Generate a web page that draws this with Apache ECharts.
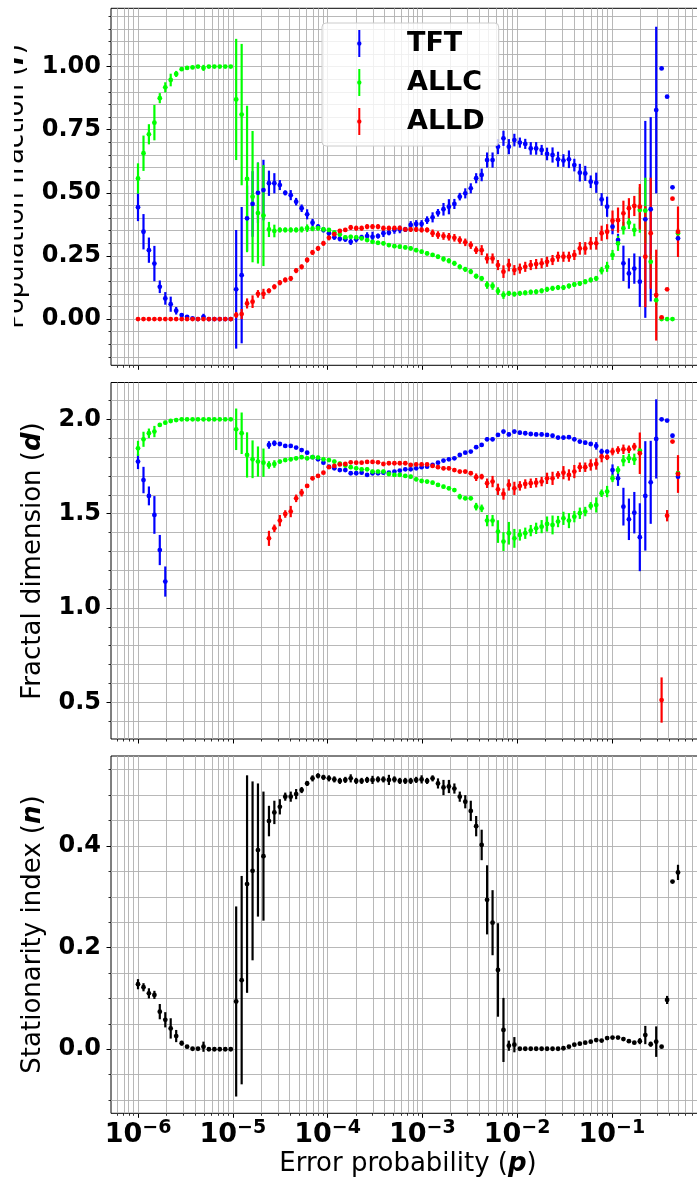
<!DOCTYPE html>
<html>
<head>
<meta charset="utf-8">
<script src="https://cdn.jsdelivr.net/npm/echarts@6/dist/echarts.min.js"></script>
<style>
  html, body { margin: 0; padding: 0; background: #fff; }
  #chart { width: 697px; height: 1183px; }
</style>
</head>
<body>
<div id="chart"></div>
<script>
// log10 of the error probability p for every simulated point
const logP = [
  -6.000, -5.942, -5.885, -5.827, -5.770, -5.712, -5.655, -5.597, -5.539, -5.482,
  -5.424, -5.367, -5.309, -5.252, -5.194, -5.137, -5.079, -5.021, -4.964, -4.906,
  -4.849, -4.791, -4.734, -4.676, -4.618, -4.561, -4.503, -4.446, -4.388, -4.331,
  -4.273, -4.215, -4.158, -4.100, -4.043, -3.985, -3.928, -3.870, -3.812, -3.755,
  -3.697, -3.640, -3.582, -3.525, -3.467, -3.410, -3.352, -3.294, -3.237, -3.179,
  -3.122, -3.064, -3.007, -2.949, -2.891, -2.834, -2.776, -2.719, -2.661, -2.604,
  -2.546, -2.488, -2.431, -2.373, -2.316, -2.258, -2.201, -2.143, -2.086, -2.028,
  -1.970, -1.913, -1.855, -1.798, -1.740, -1.683, -1.625, -1.567, -1.510, -1.452,
  -1.395, -1.337, -1.280, -1.222, -1.164, -1.107, -1.049, -0.992, -0.934, -0.877,
  -0.819, -0.762, -0.704, -0.646, -0.589, -0.531, -0.474, -0.416, -0.359, -0.301
];

// population fraction f
const tftF = [
  0.443, 0.346, 0.273, 0.220, 0.128, 0.082, 0.059, 0.033, 0.016, 0.009,
  0.003, 0.000, 0.009, 0.000, 0.000, 0.000, 0.000, 0.000, 0.118, 0.174,
  0.399, 0.456, 0.500, 0.511, 0.538, 0.538, 0.531, 0.500, 0.491, 0.465,
  0.439, 0.415, 0.382, 0.366, 0.353, 0.340, 0.324, 0.318, 0.316, 0.306,
  0.316, 0.324, 0.329, 0.326, 0.329, 0.340, 0.342, 0.353, 0.355, 0.355,
  0.373, 0.377, 0.377, 0.392, 0.403, 0.421, 0.435, 0.445, 0.456, 0.485,
  0.498, 0.518, 0.558, 0.571, 0.630, 0.630, 0.683, 0.716, 0.683, 0.709,
  0.699, 0.694, 0.676, 0.676, 0.670, 0.654, 0.650, 0.633, 0.628, 0.633,
  0.610, 0.580, 0.577, 0.544, 0.540, 0.474, 0.445, 0.366, 0.313, 0.221,
  0.181, 0.200, 0.148, 0.395, 0.435, 0.828, 0.993, 0.881, 0.522, 0.320
];
const tftFErr = [
  0.055, 0.07, 0.05, 0.07, 0.025, 0.025, 0.03, 0.015, 0.006, 0.004,
  0.003, 0, 0.012, 0, 0, 0, 0, 0, 0.235, 0.27,
  0.13, 0.13, 0.12, 0.12, 0.05, 0.04, 0.02, 0.01, 0.02, 0.015,
  0.015, 0.02, 0.015, 0.01, 0.01, 0.01, 0.01, 0.01, 0.01, 0.012,
  0.012, 0.01, 0.015, 0.02, 0.01, 0.015, 0.01, 0.015, 0.015, 0.01,
  0.015, 0.015, 0.015, 0.015, 0.02, 0.015, 0.025, 0.03, 0.02, 0.015,
  0.02, 0.02, 0.02, 0.025, 0.03, 0.03, 0.03, 0.03, 0.03, 0.025,
  0.02, 0.02, 0.025, 0.025, 0.02, 0.025, 0.03, 0.03, 0.025, 0.035,
  0.025, 0.035, 0.03, 0.025, 0.04, 0.025, 0.04, 0.03, 0.025, 0.07,
  0.06, 0.06, 0.1, 0.39, 0.365, 0.33, 0, 0, 0, 0.01
];
const allcF = [
  0.557, 0.657, 0.732, 0.778, 0.875, 0.918, 0.947, 0.971, 0.990, 0.995,
  0.997, 1.000, 0.995, 1.000, 1.000, 1.000, 1.000, 1.000, 0.870, 0.810,
  0.555, 0.485, 0.420, 0.410, 0.355, 0.349, 0.353, 0.353, 0.353, 0.353,
  0.355, 0.360, 0.358, 0.360, 0.355, 0.353, 0.343, 0.335, 0.324, 0.326,
  0.324, 0.320, 0.313, 0.306, 0.302, 0.300, 0.293, 0.289, 0.287, 0.284,
  0.280, 0.273, 0.267, 0.260, 0.254, 0.247, 0.238, 0.231, 0.221, 0.207,
  0.197, 0.188, 0.170, 0.161, 0.135, 0.131, 0.111, 0.095, 0.102, 0.099,
  0.102, 0.104, 0.107, 0.108, 0.112, 0.118, 0.122, 0.125, 0.125, 0.131,
  0.137, 0.141, 0.148, 0.155, 0.161, 0.192, 0.207, 0.254, 0.300, 0.360,
  0.382, 0.353, 0.432, 0.430, 0.227, 0.075, 0.000, 0.000, 0.000, 0.340
];
const allcFErr = [
  0.06, 0.07, 0.04, 0.07, 0.02, 0.02, 0.025, 0.012, 0.005, 0.003,
  0.003, 0.002, 0.012, 0.002, 0.002, 0.002, 0.002, 0.002, 0.24, 0.28,
  0.29, 0.26, 0.2, 0.2, 0.03, 0.025, 0.01, 0.01, 0.01, 0.01,
  0.012, 0.015, 0.01, 0.01, 0.01, 0.008, 0.008, 0.008, 0.008, 0.008,
  0.008, 0.008, 0.008, 0.008, 0.008, 0.008, 0.008, 0.008, 0.008, 0.008,
  0.008, 0.008, 0.008, 0.008, 0.008, 0.008, 0.01, 0.01, 0.01, 0.01,
  0.01, 0.01, 0.01, 0.01, 0.015, 0.015, 0.015, 0.015, 0.01, 0.01,
  0.01, 0.01, 0.01, 0.01, 0.01, 0.01, 0.01, 0.01, 0.01, 0.01,
  0.01, 0.01, 0.01, 0.01, 0.01, 0.015, 0.02, 0.02, 0.03, 0.025,
  0.025, 0.025, 0.09, 0.13, 0.03, 0.02, 0, 0, 0, 0.02
];
const alldF = [
  0.000, 0.000, 0.000, 0.000, 0.000, 0.000, 0.000, 0.000, 0.000, 0.000,
  0.000, 0.000, 0.000, 0.000, 0.000, 0.000, 0.000, 0.000, 0.016, 0.020,
  0.062, 0.069, 0.100, 0.100, 0.112, 0.128, 0.144, 0.155, 0.161, 0.192,
  0.207, 0.234, 0.264, 0.280, 0.300, 0.322, 0.336, 0.349, 0.353, 0.363,
  0.360, 0.360, 0.366, 0.366, 0.366, 0.360, 0.360, 0.360, 0.360, 0.355,
  0.355, 0.355, 0.353, 0.353, 0.340, 0.333, 0.329, 0.326, 0.322, 0.313,
  0.304, 0.293, 0.273, 0.273, 0.240, 0.240, 0.214, 0.188, 0.214, 0.194,
  0.200, 0.207, 0.214, 0.218, 0.221, 0.227, 0.234, 0.247, 0.247, 0.247,
  0.254, 0.280, 0.280, 0.300, 0.300, 0.340, 0.346, 0.390, 0.392, 0.419,
  0.439, 0.448, 0.445, 0.247, 0.340, 0.095, 0.007, 0.118, 0.477, 0.346
];
const alldFErr = [
  0.002, 0.002, 0.002, 0.002, 0.002, 0.002, 0.002, 0.002, 0.002, 0.002,
  0.002, 0.002, 0.002, 0.002, 0.002, 0.002, 0.002, 0.002, 0.012, 0.02,
  0.02, 0.025, 0.015, 0.02, 0.01, 0.01, 0.01, 0.01, 0.01, 0.01,
  0.01, 0.01, 0.01, 0.01, 0.01, 0.01, 0.008, 0.008, 0.008, 0.01,
  0.01, 0.01, 0.01, 0.01, 0.01, 0.01, 0.01, 0.01, 0.01, 0.01,
  0.01, 0.01, 0.01, 0.01, 0.015, 0.015, 0.015, 0.015, 0.015, 0.015,
  0.015, 0.015, 0.015, 0.02, 0.02, 0.02, 0.02, 0.025, 0.025, 0.02,
  0.02, 0.02, 0.02, 0.02, 0.02, 0.02, 0.02, 0.02, 0.02, 0.02,
  0.02, 0.025, 0.025, 0.025, 0.025, 0.03, 0.03, 0.04, 0.05, 0.05,
  0.04, 0.04, 0.09, 0.2, 0.22, 0.18, 0, 0, 0, 0.1
];

// fractal dimension d
const tftD = [
  1.776, 1.678, 1.594, 1.493, 1.307, 1.140, null, null, null, null,
  null, null, null, null, null, null, null, null, null, null,
  null, null, null, null, 1.864, 1.873, 1.869, 1.859, 1.859, 1.850,
  1.837, 1.823, 1.799, 1.788, 1.770, 1.749, 1.740, 1.731, 1.731, 1.714,
  1.714, 1.717, 1.705, 1.714, 1.714, 1.717, 1.717, 1.723, 1.728, 1.735,
  1.735, 1.740, 1.746, 1.749, 1.758, 1.770, 1.781, 1.788, 1.793, 1.811,
  1.823, 1.829, 1.852, 1.864, 1.894, 1.894, 1.917, 1.935, 1.920, 1.935,
  1.929, 1.926, 1.922, 1.920, 1.920, 1.917, 1.913, 1.903, 1.903, 1.905,
  1.894, 1.882, 1.876, 1.869, 1.859, 1.829, 1.829, 1.731, 1.687, 1.537,
  1.470, 1.505, 1.375, 1.594, 1.666, 1.896, 2.000, 1.993, 1.913, 1.696
];
const tftDErr = [
  0.04, 0.07, 0.05, 0.1, 0.08, 0.08, 0, 0, 0, 0,
  0, 0, 0, 0, 0, 0, 0, 0, 0, 0,
  0, 0, 0, 0, 0.02, 0.015, 0.008, 0.008, 0.008, 0.008,
  0.008, 0.008, 0.008, 0.008, 0.008, 0.008, 0.008, 0.008, 0.008, 0.008,
  0.008, 0.008, 0.008, 0.008, 0.008, 0.008, 0.008, 0.008, 0.008, 0.008,
  0.008, 0.008, 0.008, 0.008, 0.008, 0.008, 0.008, 0.008, 0.008, 0.008,
  0.008, 0.008, 0.01, 0.01, 0.01, 0.01, 0.01, 0.01, 0.01, 0.01,
  0.01, 0.01, 0.01, 0.01, 0.01, 0.01, 0.01, 0.01, 0.01, 0.01,
  0.01, 0.01, 0.01, 0.01, 0.02, 0.015, 0.01, 0.03, 0.04, 0.1,
  0.11, 0.11, 0.18, 0.29, 0.22, 0.21, 0, 0, 0.01, 0.01
];
const allcD = [
  1.846, 1.894, 1.926, 1.935, 1.970, 1.982, 1.991, 1.996, 2.000, 2.000,
  2.000, 2.000, 2.000, 2.000, 2.000, 2.000, 2.000, 2.000, 1.947, 1.926,
  1.811, 1.788, 1.776, 1.770, 1.758, 1.763, 1.776, 1.784, 1.788, 1.793,
  1.799, 1.793, 1.799, 1.797, 1.788, 1.784, 1.776, 1.765, 1.755, 1.746,
  1.740, 1.735, 1.735, 1.723, 1.723, 1.723, 1.710, 1.705, 1.705, 1.700,
  1.696, 1.682, 1.673, 1.670, 1.664, 1.652, 1.643, 1.634, 1.625, 1.590,
  1.581, 1.581, 1.537, 1.528, 1.463, 1.463, 1.405, 1.352, 1.396, 1.369,
  1.387, 1.396, 1.410, 1.422, 1.431, 1.445, 1.440, 1.458, 1.475, 1.463,
  1.484, 1.502, 1.511, 1.541, 1.546, 1.608, 1.617, 1.687, 1.731, 1.781,
  1.793, 1.788, 1.834, null, null, null, null, null, null, 1.714
];
const allcDErr = [
  0.04, 0.04, 0.025, 0.03, 0.01, 0.01, 0.005, 0.003, 0.003, 0.003,
  0.003, 0.003, 0.003, 0.003, 0.003, 0.003, 0.003, 0.003, 0.11, 0.11,
  0.12, 0.1, 0.08, 0.075, 0.02, 0.02, 0.01, 0.01, 0.01, 0.01,
  0.01, 0.01, 0.01, 0.01, 0.01, 0.01, 0.01, 0.01, 0.01, 0.01,
  0.01, 0.01, 0.01, 0.01, 0.01, 0.01, 0.01, 0.01, 0.01, 0.01,
  0.01, 0.01, 0.01, 0.01, 0.01, 0.01, 0.01, 0.01, 0.01, 0.015,
  0.01, 0.01, 0.02, 0.02, 0.03, 0.03, 0.06, 0.05, 0.06, 0.05,
  0.03, 0.03, 0.03, 0.03, 0.035, 0.04, 0.05, 0.03, 0.035, 0.04,
  0.03, 0.03, 0.025, 0.02, 0.04, 0.02, 0.03, 0.02, 0.02, 0.03,
  0.025, 0.03, 0.02, 0, 0, 0, 0, 0, 0, 0.01
];
const alldD = [
  null, null, null, null, null, null, null, null, null, null,
  null, null, null, null, null, null, null, null, null, null,
  null, null, null, null, 1.369, 1.422, 1.463, 1.498, 1.511, 1.581,
  1.611, 1.647, 1.687, 1.700, 1.717, 1.746, 1.753, 1.761, 1.763, 1.772,
  1.770, 1.770, 1.774, 1.774, 1.772, 1.763, 1.767, 1.767, 1.767, 1.767,
  1.758, 1.761, 1.761, 1.761, 1.753, 1.746, 1.740, 1.740, 1.731, 1.723,
  1.723, 1.714, 1.693, 1.696, 1.661, 1.670, 1.629, 1.604, 1.652, 1.634,
  1.647, 1.657, 1.661, 1.664, 1.670, 1.687, 1.687, 1.705, 1.717, 1.705,
  1.723, 1.746, 1.746, 1.758, 1.763, 1.802, 1.799, 1.829, 1.837, 1.841,
  1.841, 1.855, 1.820, null, null, null, 0.512, 1.489, 1.882, 1.710
];
const alldDErr = [
  0, 0, 0, 0, 0, 0, 0, 0, 0, 0,
  0, 0, 0, 0, 0, 0, 0, 0, 0, 0,
  0, 0, 0, 0, 0.04, 0.02, 0.03, 0.02, 0.03, 0.02,
  0.02, 0.01, 0.01, 0.008, 0.008, 0.008, 0.008, 0.008, 0.008, 0.008,
  0.008, 0.008, 0.008, 0.008, 0.008, 0.008, 0.008, 0.008, 0.008, 0.008,
  0.008, 0.008, 0.008, 0.008, 0.01, 0.01, 0.01, 0.01, 0.01, 0.01,
  0.01, 0.01, 0.02, 0.015, 0.025, 0.03, 0.03, 0.03, 0.03, 0.035,
  0.025, 0.025, 0.025, 0.025, 0.025, 0.03, 0.035, 0.02, 0.035, 0.03,
  0.035, 0.025, 0.025, 0.03, 0.03, 0.03, 0.015, 0.02, 0.02, 0.025,
  0.02, 0.02, 0.11, 0, 0, 0, 0.12, 0.03, 0.005, 0.1
];

// stationarity index n
const statN = [
  0.128, 0.122, 0.110, 0.107, 0.074, 0.058, 0.041, 0.026, 0.012, 0.005,
  0.001, 0.001, 0.005, 0.000, 0.000, 0.000, 0.000, 0.000, 0.094, 0.136,
  0.325, 0.351, 0.392, 0.380, 0.449, 0.466, 0.477, 0.497, 0.497, 0.502,
  0.510, 0.523, 0.533, 0.538, 0.535, 0.533, 0.531, 0.528, 0.530, 0.533,
  0.528, 0.528, 0.530, 0.530, 0.531, 0.531, 0.530, 0.531, 0.528, 0.528,
  0.528, 0.530, 0.531, 0.528, 0.533, 0.523, 0.515, 0.517, 0.513, 0.497,
  0.487, 0.469, 0.439, 0.402, 0.294, 0.249, 0.156, 0.038, 0.007, 0.009,
  0.001, 0.001, 0.001, 0.001, 0.001, 0.001, 0.001, 0.001, 0.002, 0.005,
  0.009, 0.011, 0.013, 0.015, 0.018, 0.017, 0.022, 0.023, 0.023, 0.020,
  0.016, 0.013, 0.016, 0.028, 0.010, 0.015, 0.005, 0.097, 0.330, 0.348
];
const statNErr = [
  0.01, 0.008, 0.01, 0.008, 0.015, 0.015, 0.02, 0.012, 0.005, 0.003,
  0.002, 0.002, 0.01, 0.002, 0.002, 0.002, 0.002, 0.002, 0.187, 0.205,
  0.214, 0.176, 0.131, 0.127, 0.03, 0.023, 0.015, 0.008, 0.01, 0.01,
  0.006, 0.005, 0.006, 0.005, 0.005, 0.006, 0.006, 0.006, 0.006, 0.008,
  0.006, 0.006, 0.006, 0.008, 0.006, 0.006, 0.01, 0.006, 0.006, 0.006,
  0.006, 0.006, 0.008, 0.006, 0.006, 0.01, 0.015, 0.013, 0.01, 0.01,
  0.013, 0.02, 0.02, 0.03, 0.068, 0.064, 0.092, 0.063, 0.01, 0.015,
  0.003, 0.003, 0.003, 0.003, 0.003, 0.003, 0.003, 0.003, 0.003, 0.003,
  0.003, 0.003, 0.003, 0.003, 0.003, 0.003, 0.003, 0.003, 0.003, 0.003,
  0.003, 0.003, 0.006, 0.018, 0.005, 0.03, 0.002, 0.008, 0.003, 0.015
];

// tick labels
const xTicks = [-6, -5, -4, -3, -2, -1];
const fracTicks = [0, 0.25, 0.5, 0.75, 1.0];
const dimTicks = [0.5, 1.0, 1.5, 2.0];
const statTicks = [0, 0.2, 0.4];
const legendNames = ['TFT', 'ALLC', 'ALLD'];

const FONT = '"DejaVu Sans", sans-serif';
const BLUE = '#0000ff', GREEN = '#00ff00', RED = '#ff0000', BLACK = '#000000';
const XMIN = -6.285, XMAX = -0.016;

let chart = echarts.init(document.getElementById('chart'), null, { renderer: 'canvas' });

const panels = [
  { top: 8.3, height: 357, min: -0.183, max: 1.231, ticks: fracTicks, digits: 2, step: 0.05 },
  { top: 382.5, height: 356.5, min: 0.3055, max: 2.195, ticks: dimTicks, digits: 1, step: 0.1 },
  { top: 756, height: 357.3, min: -0.126, max: 0.577, ticks: statTicks, digits: 1, step: 0.05 }
];

// log-axis decoration: decades and 2..9 sub-decades
const xMajor = [], xMinor = [];
for (let n = -7; n <= 0; n++) {
  for (let k = 1; k <= 9; k++) {
    const v = n + Math.log10(k);
    if (v <= XMIN || v >= XMAX) continue;
    (k === 1 ? xMajor : xMinor).push(v);
  }
}

function yGridValues(p) {
  const out = [];
  const inv = Math.round(1 / p.step);
  for (let k = Math.ceil(p.min * inv); k <= Math.floor(p.max * inv); k++) out.push(k / inv);
  return out;
}

function points(vals, errs) {
  const out = [];
  vals.forEach((v, i) => {
    if (v === null) return;
    out.push([logP[i], v, errs[i]]);
  });
  return out;
}

function errorBars(color) {
  return function (params, api) {
    const x = api.value(0), y = api.value(1), e = api.value(2);
    if (!(e > 0)) return;
    const a = api.coord([x, y - e]);
    const b = api.coord([x, y + e]);
    return {
      type: 'line',
      shape: { x1: a[0], y1: a[1], x2: b[0], y2: b[1] },
      style: { stroke: color, lineWidth: 2.2 }
    };
  };
}

const grid = [], xAxis = [], yAxis = [], series = [];

panels.forEach((p, g) => {
  grid.push({
    left: 111, top: p.top, width: 594, height: p.height,
    show: true, borderColor: '#000', borderWidth: 1, backgroundColor: 'transparent',
    containLabel: false, outerBoundsMode: 'none'
  });
  // major x axis
  xAxis.push({
    gridIndex: g, type: 'value', min: XMIN, max: XMAX, position: 'bottom',
    axisLine: { show: false, onZero: false },
    splitLine: { show: false },
    axisTick: { show: true, customValues: xTicks, length: 4.5, lineStyle: { color: '#000', width: 1 } },
    axisLabel: {
      show: g === 2, customValues: xTicks, margin: 5,
      formatter: v => '{b|10}{s|\u2212' + Math.abs(Math.round(v)) + '}',
      rich: {
        b: { fontSize: 27, fontWeight: 'bold', fontFamily: FONT, color: '#000', lineHeight: 30, verticalAlign: 'bottom' },
        s: { fontSize: 19, fontWeight: 'bold', fontFamily: FONT, color: '#000', lineHeight: 16, verticalAlign: 'top' }
      }
    }
  });
  // minor x ticks
  xAxis.push({
    gridIndex: g, type: 'value', min: XMIN, max: XMAX, position: 'bottom',
    axisLine: { show: false, onZero: false },
    splitLine: { show: false },
    axisTick: { show: true, customValues: xMinor, length: 2.5, lineStyle: { color: '#000', width: 0.8 } },
    axisLabel: { show: false }
  });
  const minorY = yGridValues(p).filter(v => !p.ticks.some(t => Math.abs(t - v) < 1e-9));
  yAxis.push({
    gridIndex: g, type: 'value', min: p.min, max: p.max, position: 'left',
    axisLine: { show: false, onZero: false },
    splitLine: { show: false },
    axisTick: { show: true, customValues: p.ticks, length: 4.5, lineStyle: { color: '#000', width: 1 } },
    axisLabel: {
      show: true, customValues: p.ticks, margin: 10,
      formatter: v => v.toFixed(p.digits),
      fontSize: 24, fontWeight: 'bold', fontFamily: FONT, color: '#000'
    }
  });
  yAxis.push({
    gridIndex: g, type: 'value', min: p.min, max: p.max, position: 'left',
    axisLine: { show: false, onZero: false },
    splitLine: { show: false },
    axisTick: { show: true, customValues: minorY, length: 2.5, lineStyle: { color: '#000', width: 0.8 } },
    axisLabel: { show: false }
  });

  // grid lines (major and minor, same style as the reference), kept beneath everything else
  const lines = [];
  xMajor.concat(xMinor).forEach(v => lines.push({ xAxis: v }));
  yGridValues(p).forEach(v => lines.push({ yAxis: v }));
  series.push({
    type: 'line', name: 'grid' + g, xAxisIndex: 2 * g, yAxisIndex: 2 * g,
    data: [[XMIN, p.min]], symbol: 'none', lineStyle: { opacity: 0 }, silent: true, z: 1,
    markLine: {
      z: 1, silent: true, symbol: ['none', 'none'], label: { show: false },
      lineStyle: { color: '#b0b0b0', width: 0.9, type: 'solid' },
      emphasis: { disabled: true },
      animation: false,
      data: lines
    }
  });
});

function addPanel(g, groups) {
  groups.forEach(s => {
    series.push({
      type: 'custom', name: s.name + ' err', xAxisIndex: 2 * g, yAxisIndex: 2 * g,
      data: points(s.vals, s.errs), encode: { x: 0, y: 1 },
      renderItem: errorBars(s.color), silent: true, z: 2
    });
  });
  groups.forEach(s => {
    series.push({
      type: 'scatter', name: g === 0 ? s.name : s.name + ' ' + g, xAxisIndex: 2 * g, yAxisIndex: 2 * g,
      data: points(s.vals, s.errs).map(d => [d[0], d[1]]),
      symbol: 'circle', symbolSize: 4.8,
      itemStyle: { color: s.color, opacity: 1, borderWidth: 0 }, silent: true, z: 3
    });
  });
}

addPanel(0, [
  { name: 'TFT', vals: tftF, errs: tftFErr, color: BLUE },
  { name: 'ALLC', vals: allcF, errs: allcFErr, color: GREEN },
  { name: 'ALLD', vals: alldF, errs: alldFErr, color: RED }
]);
addPanel(1, [
  { name: 'TFT', vals: tftD, errs: tftDErr, color: BLUE },
  { name: 'ALLC', vals: allcD, errs: allcDErr, color: GREEN },
  { name: 'ALLD', vals: alldD, errs: alldDErr, color: RED }
]);
addPanel(2, [
  { name: 'n', vals: statN, errs: statNErr, color: BLACK }
]);

// errorbar-like legend icon: thin vertical bar with a dot, padded to 66x27
const LEGEND_ICON = 'path://M0,13.5L0.01,13.5L0,13.52Z M22.3,0L24.3,0L24.3,27L22.3,27Z ' +
  'M21.1,13.5A2.2,2.2,0,1,1,25.5,13.5A2.2,2.2,0,1,1,21.1,13.5Z M66,13.5L65.99,13.5L66,13.52Z';

const nameRich = size => ({
  n: { fontSize: size, fontFamily: FONT, color: '#000' },
  v: { fontSize: size, fontFamily: FONT, color: '#000', fontWeight: 'bold', fontStyle: 'italic' }
});

function axisTitle(x, y, rot, text) {
  return {
    type: 'text', x: x, y: y, rotation: rot, z: 10, silent: true,
    style: {
      text: text, rich: nameRich(26), font: '26px ' + FONT, fill: '#000',
      align: 'center', verticalAlign: 'middle', textAlign: 'center', textVerticalAlign: 'middle'
    }
  };
}

const option = {
  animation: false,
  backgroundColor: '#fff',
  grid: grid,
  xAxis: xAxis,
  yAxis: yAxis,
  legend: {
    data: legendNames,
    orient: 'vertical', left: 322, top: 23, z: 6,
    icon: LEGEND_ICON, itemWidth: 66, itemHeight: 27, itemGap: 12,
    padding: [7, 14, 11, 14],
    backgroundColor: 'rgba(255,255,255,0.8)', borderColor: '#cccccc', borderWidth: 1, borderRadius: 4,
    textStyle: { fontSize: 27, fontWeight: 'bold', fontFamily: FONT, color: '#000' },
    selectedMode: false
  },
  graphic: [
    axisTitle(16, 186.5, Math.PI / 2, '{n|Population fraction (}{v|f}{n|)}'),
    { type: 'rect', shape: { x: 0, y: 0, width: 14, height: 372 }, style: { fill: '#fff' }, z: 11, silent: true },
    axisTitle(33, 561, Math.PI / 2, '{n|Fractal dimension (}{v|d}{n|)}'),
    axisTitle(33, 934.5, Math.PI / 2, '{n|Stationarity index (}{v|n}{n|)}'),
    axisTitle(408, 1164, 0, '{n|Error probability (}{v|p}{n|)}')
  ],
  series: series
};

chart.setOption(option);
window.addEventListener('resize', () => chart.resize());
</script>
</body>
</html>
